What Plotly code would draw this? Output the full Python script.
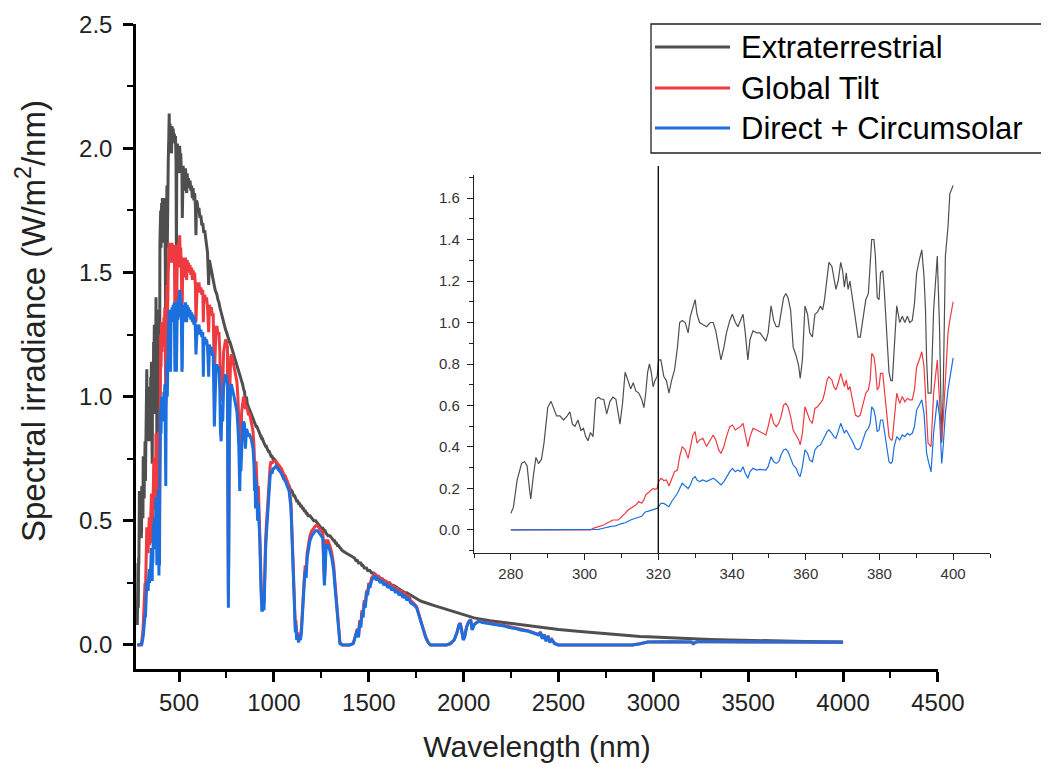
import plotly.graph_objects as go

# ---------------- DATA ----------------
# UV part 280-400 nm (also shown in the inset)
wavelength_uv = [
    280.0, 280.7, 281.7, 282.9, 283.7, 284.4, 285.1, 285.4, 286.1, 286.8,
    287.5, 288.3, 289.0, 290.0, 290.9, 291.6, 292.4, 293.3, 294.3, 295.3,
    296.0, 296.7, 297.4, 298.2, 299.0, 299.7, 300.3, 300.9, 301.6, 302.3,
    303.0, 303.8, 304.5, 305.2, 306.0, 306.9, 307.7, 308.5, 309.1, 309.6,
    310.3, 311.0, 311.8, 312.5, 313.2, 313.9, 314.7, 315.5, 316.1, 316.6,
    317.1, 317.6, 318.1, 318.6, 319.1, 319.7, 320.1, 320.7, 321.5, 322.2,
    322.9, 323.6, 324.4, 325.2, 325.8, 326.5, 327.3, 328.1, 328.7, 329.4,
    330.0, 330.5, 331.2, 332.1, 333.1, 334.1, 334.9, 335.6, 336.4, 337.0,
    337.8, 338.5, 339.4, 340.1, 340.9, 341.6, 342.3, 343.0, 343.6, 344.3,
    344.9, 345.7, 346.7, 347.6, 348.4, 349.2, 349.8, 350.6, 351.3, 352.0,
    352.7, 353.3, 354.0, 354.6, 355.2, 355.9, 356.6, 357.4, 358.1, 358.5,
    359.1, 359.8, 360.5, 361.1, 361.8, 362.5, 363.2, 364.0, 364.6, 365.1,
    365.8, 366.3, 367.1, 367.6, 368.2, 368.8, 369.5, 370.0, 370.5, 371.0,
    371.5, 372.0, 372.7, 373.5, 374.2, 374.8, 375.6, 376.3, 377.0, 377.5,
    377.9, 378.5, 378.9, 379.4, 379.9, 380.3, 380.9, 381.3, 381.6, 382.2,
    382.6, 383.1, 383.5, 384.0, 384.7, 385.5, 386.2, 386.9, 387.6, 388.2,
    388.9, 389.5, 390.1, 390.8, 391.5, 392.1, 392.5, 392.8, 393.2, 394.0,
    394.7, 395.7, 396.3, 396.9, 397.3, 397.9, 398.6, 399.1, 400.0,
]
extraterrestrial_uv = [
    0.08, 0.11, 0.24, 0.32, 0.33, 0.31, 0.19, 0.15, 0.26, 0.35,
    0.32, 0.34, 0.42, 0.59, 0.62, 0.59, 0.55, 0.55, 0.53, 0.55,
    0.57, 0.51, 0.50, 0.53, 0.48, 0.49, 0.45, 0.43, 0.47, 0.45,
    0.63, 0.64, 0.63, 0.63, 0.56, 0.62, 0.64, 0.63, 0.55, 0.51,
    0.61, 0.76, 0.72, 0.68, 0.71, 0.67, 0.66, 0.63, 0.59, 0.66,
    0.76, 0.80, 0.76, 0.69, 0.72, 0.74, 0.82, 0.82, 0.74, 0.72,
    0.66, 0.72, 0.77, 0.88, 1.00, 1.01, 1.00, 0.95, 1.03, 1.08,
    1.11, 1.04, 1.00, 0.99, 0.98, 1.00, 1.00, 0.96, 0.88, 0.82,
    0.88, 0.95, 1.01, 1.04, 1.00, 0.98, 1.01, 1.04, 0.95, 0.82,
    0.92, 0.96, 0.95, 0.95, 0.93, 0.91, 0.95, 1.08, 1.01, 0.98,
    0.98, 1.04, 1.12, 1.14, 1.12, 1.06, 0.88, 0.84, 0.79, 0.73,
    0.82, 1.08, 1.04, 0.95, 0.93, 1.04, 1.05, 1.08, 1.06, 1.11,
    1.22, 1.29, 1.27, 1.22, 1.16, 1.20, 1.29, 1.25, 1.17, 1.24,
    1.16, 1.20, 1.11, 1.01, 0.93, 0.93, 1.03, 1.11, 1.14, 1.27,
    1.40, 1.40, 1.32, 1.12, 1.11, 1.24, 1.25, 1.16, 1.04, 0.88,
    0.76, 0.72, 0.72, 0.88, 1.08, 1.00, 1.03, 1.00, 1.03, 1.00,
    1.01, 1.09, 1.24, 1.30, 1.35, 1.22, 1.06, 0.82, 0.66, 0.66,
    1.06, 1.32, 0.98, 0.42, 0.66, 1.32, 1.46, 1.62, 1.66,
]
global_tilt_uv = [
    0, 0, 0, 0, 0, 0, 0, 0, 0, 0,
    0, 0, 0, 0, 0, 0, 0, 0, 0, 0,
    0, 0, 0, 0, 0, 0, 0, 0, 0, 0.008,
    0.011, 0.016, 0.019, 0.024, 0.032, 0.040, 0.048, 0.048, 0.048, 0.056,
    0.067, 0.080, 0.096, 0.104, 0.112, 0.120, 0.137, 0.129, 0.145, 0.169,
    0.177, 0.185, 0.193, 0.200, 0.196, 0.200, 0.233, 0.249, 0.238, 0.241,
    0.212, 0.241, 0.281, 0.289, 0.353, 0.402, 0.386, 0.345, 0.402, 0.458,
    0.474, 0.418, 0.434, 0.442, 0.402, 0.434, 0.458, 0.434, 0.386, 0.369,
    0.402, 0.450, 0.498, 0.506, 0.482, 0.490, 0.498, 0.514, 0.466, 0.402,
    0.450, 0.490, 0.482, 0.474, 0.466, 0.458, 0.498, 0.562, 0.514, 0.498,
    0.514, 0.546, 0.602, 0.610, 0.594, 0.546, 0.482, 0.458, 0.434, 0.410,
    0.466, 0.594, 0.562, 0.530, 0.514, 0.586, 0.594, 0.610, 0.627, 0.659,
    0.723, 0.739, 0.723, 0.691, 0.675, 0.707, 0.755, 0.723, 0.691, 0.723,
    0.675, 0.691, 0.627, 0.554, 0.546, 0.554, 0.610, 0.659, 0.675, 0.723,
    0.851, 0.835, 0.787, 0.675, 0.691, 0.755, 0.755, 0.691, 0.627, 0.530,
    0.450, 0.434, 0.434, 0.530, 0.659, 0.610, 0.643, 0.618, 0.635, 0.627,
    0.627, 0.675, 0.787, 0.819, 0.859, 0.787, 0.659, 0.530, 0.418, 0.402,
    0.659, 0.819, 0.627, 0.434, 0.530, 0.739, 0.948, 1.012, 1.100,
]
direct_uv = [
    0, 0, 0, 0, 0, 0, 0, 0, 0, 0,
    0, 0, 0, 0, 0, 0, 0, 0, 0, 0,
    0, 0, 0, 0, 0, 0, 0, 0, 0, 0,
    0.0, 0.003, 0.006, 0.008, 0.011, 0.016, 0.019, 0.020, 0.025, 0.029,
    0.032, 0.035, 0.040, 0.048, 0.053, 0.058, 0.061, 0.066, 0.080, 0.088,
    0.090, 0.093, 0.096, 0.096, 0.100, 0.104, 0.112, 0.128, 0.128, 0.120,
    0.112, 0.136, 0.157, 0.177, 0.200, 0.225, 0.212, 0.200, 0.217, 0.249,
    0.257, 0.241, 0.233, 0.241, 0.233, 0.241, 0.249, 0.241, 0.225, 0.217,
    0.233, 0.257, 0.281, 0.297, 0.281, 0.289, 0.281, 0.305, 0.273, 0.249,
    0.281, 0.297, 0.289, 0.292, 0.289, 0.289, 0.305, 0.353, 0.329, 0.321,
    0.329, 0.361, 0.386, 0.390, 0.378, 0.345, 0.313, 0.297, 0.265, 0.257,
    0.305, 0.386, 0.370, 0.337, 0.329, 0.386, 0.402, 0.410, 0.434, 0.450,
    0.474, 0.482, 0.466, 0.450, 0.442, 0.474, 0.514, 0.490, 0.466, 0.482,
    0.466, 0.450, 0.426, 0.394, 0.386, 0.394, 0.442, 0.474, 0.490, 0.514,
    0.594, 0.578, 0.546, 0.474, 0.482, 0.530, 0.530, 0.482, 0.434, 0.369,
    0.329, 0.321, 0.329, 0.402, 0.450, 0.434, 0.458, 0.450, 0.466, 0.458,
    0.466, 0.498, 0.578, 0.602, 0.627, 0.562, 0.466, 0.370, 0.337, 0.280,
    0.466, 0.627, 0.550, 0.321, 0.402, 0.562, 0.675, 0.739, 0.830,
]

# Visible / near-IR part 403-1000 nm
wavelength_vis = [
    403, 405, 408, 410, 412, 415, 418, 420, 423, 425,
    428, 430, 432, 434, 436, 438, 440, 443, 446, 448,
    450, 452, 455, 458, 460, 463, 466, 469, 472, 475,
    478, 481, 484, 486, 488, 491, 494, 497, 500, 503,
    506, 509, 512, 515, 517, 519, 522, 525, 528, 531,
    534, 537, 540, 543, 546, 550, 554, 558, 562, 566,
    570, 574, 578, 582, 586, 589, 592, 596, 600, 605,
    610, 615, 620, 625, 628, 630, 635, 640, 645, 650,
    656, 660, 665, 670, 675, 680, 686, 690, 695, 700,
    705, 710, 715, 718, 722, 726, 730, 735, 740, 745,
    750, 755, 758, 760, 762, 765, 768, 772, 776, 780,
    785, 790, 795, 800, 805, 810, 815, 820, 823, 826,
    830, 835, 840, 845, 850, 855, 860, 865, 870, 875,
    880, 885, 890, 895, 898, 900, 903, 906, 910, 914,
    918, 922, 926, 930, 933, 936, 940, 944, 948, 952,
    956, 960, 965, 970, 975, 980, 985, 990, 995, 1000,
]
extraterrestrial_vis = [
    1.75, 1.60, 1.78, 1.65, 1.80, 1.74, 1.62, 1.78, 1.72, 1.80,
    1.55, 1.25, 1.60, 1.72, 1.85, 1.60, 1.90, 1.95, 2.05, 2.14,
    2.00, 2.10, 2.05, 2.08, 1.98, 2.09, 2.04, 2.08, 2.03, 2.06,
    2.02, 2.05, 1.95, 1.55, 1.98, 2.02, 1.93, 2.00, 1.90, 2.01,
    1.96, 1.98, 1.90, 1.92, 1.72, 1.85, 1.93, 1.83, 1.91, 1.86,
    1.92, 1.88, 1.82, 1.90, 1.85, 1.88, 1.84, 1.87, 1.83, 1.85,
    1.80, 1.84, 1.79, 1.82, 1.77, 1.65, 1.79, 1.78, 1.75, 1.76,
    1.72, 1.73, 1.69, 1.70, 1.68, 1.66, 1.67, 1.63, 1.62, 1.58,
    1.45, 1.55, 1.53, 1.51, 1.48, 1.47, 1.45, 1.43, 1.42, 1.41,
    1.39, 1.38, 1.36, 1.35, 1.34, 1.33, 1.31, 1.30, 1.28, 1.27,
    1.26, 1.25, 1.24, 1.24, 1.23, 1.22, 1.22, 1.21, 1.20, 1.19,
    1.18, 1.16, 1.15, 1.14, 1.13, 1.11, 1.10, 1.09, 1.08, 1.07,
    1.06, 1.05, 1.03, 1.02, 0.98, 1.00, 0.97, 0.96, 0.95, 0.94,
    0.93, 0.92, 0.91, 0.90, 0.90, 0.89, 0.89, 0.88, 0.88, 0.87,
    0.86, 0.86, 0.85, 0.84, 0.84, 0.83, 0.83, 0.82, 0.81, 0.81,
    0.80, 0.80, 0.79, 0.78, 0.78, 0.77, 0.76, 0.76, 0.75, 0.75,
]
global_tilt_vis = [
    1.25, 1.12, 1.30, 1.18, 1.30, 1.28, 1.20, 1.32, 1.30, 1.36,
    1.20, 0.98, 1.25, 1.35, 1.45, 1.25, 1.45, 1.50, 1.57, 1.62,
    1.55, 1.60, 1.58, 1.61, 1.54, 1.62, 1.58, 1.61, 1.57, 1.60,
    1.35, 1.61, 1.52, 1.25, 1.55, 1.60, 1.52, 1.62, 1.52, 1.65,
    1.58, 1.60, 1.52, 1.35, 1.38, 1.50, 1.56, 1.48, 1.55, 1.50,
    1.56, 1.52, 1.47, 1.55, 1.51, 1.54, 1.50, 1.53, 1.49, 1.52,
    1.47, 1.51, 1.47, 1.50, 1.45, 1.30, 1.45, 1.46, 1.44, 1.46,
    1.42, 1.44, 1.41, 1.43, 1.30, 1.38, 1.41, 1.39, 1.40, 1.36,
    1.26, 1.37, 1.35, 1.36, 1.33, 1.33, 1.08, 1.15, 1.28, 1.28,
    1.25, 1.26, 1.18, 1.02, 0.98, 1.12, 1.06, 1.18, 1.22, 1.23,
    1.22, 1.20, 0.55, 0.20, 0.45, 0.95, 1.12, 1.16, 1.17, 1.15,
    1.14, 1.12, 1.10, 1.08, 1.06, 1.00, 0.92, 0.80, 0.88, 0.83,
    0.94, 0.98, 1.00, 0.99, 0.95, 0.96, 0.95, 0.93, 0.93, 0.92,
    0.90, 0.88, 0.86, 0.80, 0.70, 0.76, 0.62, 0.74, 0.68, 0.58,
    0.64, 0.55, 0.48, 0.32, 0.22, 0.16, 0.17, 0.20, 0.17, 0.35,
    0.42, 0.48, 0.55, 0.62, 0.67, 0.72, 0.74, 0.73, 0.74, 0.74,
]
direct_vis = [
    0.95, 0.85, 1.00, 0.90, 1.00, 0.98, 0.90, 1.02, 1.00, 1.05,
    0.85, 0.64, 0.95, 1.05, 1.15, 1.00, 1.18, 1.22, 1.30, 1.35,
    1.28, 1.32, 1.10, 1.34, 1.30, 1.36, 1.33, 1.37, 1.33, 1.38,
    1.10, 1.38, 1.30, 1.10, 1.32, 1.38, 1.31, 1.40, 1.32, 1.43,
    1.38, 1.40, 1.33, 1.10, 1.12, 1.30, 1.37, 1.30, 1.37, 1.32,
    1.38, 1.34, 1.30, 1.37, 1.33, 1.36, 1.32, 1.35, 1.31, 1.34,
    1.30, 1.33, 1.29, 1.32, 1.27, 1.17, 1.28, 1.29, 1.27, 1.29,
    1.25, 1.27, 1.24, 1.26, 1.08, 1.20, 1.24, 1.22, 1.23, 1.20,
    1.08, 1.21, 1.19, 1.20, 1.17, 1.17, 0.88, 0.98, 1.12, 1.13,
    1.10, 1.12, 1.02, 0.86, 0.82, 0.97, 0.90, 1.04, 1.08, 1.09,
    1.08, 1.06, 0.45, 0.15, 0.35, 0.85, 1.00, 1.04, 1.05, 1.03,
    1.02, 1.00, 0.98, 0.96, 0.94, 0.88, 0.80, 0.62, 0.75, 0.70,
    0.84, 0.88, 0.90, 0.89, 0.79, 0.87, 0.86, 0.84, 0.85, 0.84,
    0.83, 0.81, 0.79, 0.72, 0.62, 0.69, 0.55, 0.66, 0.61, 0.50,
    0.57, 0.48, 0.42, 0.28, 0.18, 0.14, 0.14, 0.16, 0.14, 0.30,
    0.38, 0.44, 0.51, 0.58, 0.63, 0.68, 0.70, 0.69, 0.71, 0.71,
]

# Infrared part 1010-4000 nm
wavelength_ir = [
    1010, 1020, 1030, 1040, 1050, 1060, 1070, 1080, 1090, 1095,
    1100, 1105, 1110, 1113, 1116, 1120, 1125, 1130, 1135, 1140,
    1145, 1150, 1155, 1160, 1165, 1170, 1175, 1180, 1190, 1200,
    1210, 1220, 1230, 1240, 1250, 1258, 1262, 1266, 1270, 1275,
    1285, 1295, 1305, 1315, 1320, 1325, 1330, 1335, 1340, 1348,
    1360, 1380, 1400, 1418, 1425, 1432, 1440, 1446, 1452, 1458,
    1464, 1470, 1476, 1482, 1488, 1494, 1500, 1506, 1515, 1525,
    1532, 1540, 1550, 1560, 1570, 1580, 1590, 1600, 1610, 1620,
    1630, 1640, 1650, 1660, 1670, 1680, 1690, 1700, 1710, 1720,
    1730, 1740, 1752, 1760, 1770, 1780, 1790, 1800, 1813, 1825,
    1850, 1880, 1910, 1930, 1950, 1965, 1975, 1982, 1990, 1998,
    2005, 2015, 2025, 2037, 2045, 2055, 2068, 2080, 2100, 2120,
    2140, 2160, 2180, 2200, 2220, 2240, 2260, 2280, 2300, 2320,
    2340, 2360, 2380, 2395, 2405, 2415, 2425, 2435, 2445, 2455,
    2465, 2480, 2500, 2600, 2700, 2800, 2890, 2930, 2970, 3100,
    3200, 3210, 3230, 3300, 3400, 3500, 3600, 3700, 3800, 3900,
    4000,
]
extraterrestrial_ir = [
    0.74, 0.72, 0.71, 0.70, 0.68, 0.67, 0.65, 0.64, 0.62, 0.62,
    0.61, 0.60, 0.60, 0.59, 0.59, 0.58, 0.58, 0.57, 0.57, 0.56,
    0.56, 0.55, 0.55, 0.54, 0.54, 0.53, 0.53, 0.52, 0.52, 0.51,
    0.50, 0.50, 0.49, 0.48, 0.47, 0.47, 0.46, 0.46, 0.46, 0.45,
    0.44, 0.44, 0.43, 0.42, 0.42, 0.41, 0.41, 0.40, 0.40, 0.39,
    0.38, 0.37, 0.36, 0.35, 0.35, 0.34, 0.34, 0.33, 0.33, 0.33,
    0.32, 0.32, 0.31, 0.31, 0.31, 0.30, 0.30, 0.30, 0.29, 0.29,
    0.28, 0.28, 0.27, 0.27, 0.26, 0.26, 0.25, 0.25, 0.25, 0.24,
    0.24, 0.235, 0.23, 0.225, 0.22, 0.215, 0.21, 0.21, 0.205, 0.20,
    0.195, 0.19, 0.185, 0.18, 0.178, 0.175, 0.172, 0.17, 0.167, 0.163,
    0.157, 0.15, 0.143, 0.138, 0.133, 0.129, 0.126, 0.124, 0.122, 0.12,
    0.118, 0.116, 0.114, 0.112, 0.111, 0.109, 0.107, 0.105, 0.102, 0.099,
    0.097, 0.095, 0.093, 0.091, 0.089, 0.087, 0.085, 0.083, 0.081, 0.079,
    0.077, 0.075, 0.073, 0.072, 0.071, 0.070, 0.069, 0.068, 0.067, 0.066,
    0.065, 0.064, 0.062, 0.055, 0.048, 0.042, 0.036, 0.034, 0.033, 0.028,
    0.024, 0.024, 0.023, 0.022, 0.020, 0.018, 0.016, 0.015, 0.014, 0.013,
    0.012,
]
global_tilt_ir = [
    0.74, 0.73, 0.72, 0.71, 0.69, 0.68, 0.66, 0.64, 0.57, 0.47,
    0.35, 0.30, 0.17, 0.07, 0.10, 0.03, 0.05, 0.02, 0.04, 0.03,
    0.07, 0.14, 0.24, 0.27, 0.32, 0.29, 0.37, 0.40, 0.44, 0.46,
    0.47, 0.48, 0.48, 0.47, 0.46, 0.45, 0.35, 0.26, 0.32, 0.42,
    0.42, 0.40, 0.37, 0.32, 0.27, 0.22, 0.19, 0.13, 0.07, 0.01,
    0.0, 0.0, 0.0, 0.006, 0.022, 0.045, 0.065, 0.035, 0.10, 0.08,
    0.14, 0.12, 0.18, 0.16, 0.22, 0.21, 0.25, 0.24, 0.27, 0.28,
    0.29, 0.27, 0.28, 0.26, 0.27, 0.25, 0.26, 0.24, 0.25, 0.23,
    0.24, 0.22, 0.23, 0.21, 0.22, 0.20, 0.21, 0.19, 0.20, 0.18,
    0.17, 0.165, 0.155, 0.135, 0.115, 0.085, 0.055, 0.032, 0.01, 0.0,
    0.0, 0.0, 0.0, 0.005, 0.02, 0.05, 0.08, 0.088, 0.062, 0.022,
    0.032, 0.072, 0.092, 0.102, 0.062, 0.082, 0.092, 0.097, 0.092, 0.09,
    0.087, 0.085, 0.082, 0.08, 0.077, 0.072, 0.07, 0.067, 0.062, 0.06,
    0.057, 0.052, 0.047, 0.042, 0.052, 0.027, 0.042, 0.017, 0.037, 0.012,
    0.022, 0.006, 0.0, 0.0, 0.0, 0.0, 0.0, 0.005, 0.012, 0.013,
    0.012, 0.005, 0.013, 0.013, 0.012, 0.012, 0.012, 0.012, 0.011, 0.011,
    0.011,
]
direct_ir = [
    0.72, 0.71, 0.70, 0.69, 0.67, 0.66, 0.64, 0.62, 0.55, 0.45,
    0.33, 0.28, 0.15, 0.05, 0.08, 0.02, 0.04, 0.01, 0.03, 0.02,
    0.05, 0.12, 0.22, 0.25, 0.30, 0.27, 0.35, 0.38, 0.42, 0.44,
    0.45, 0.46, 0.46, 0.45, 0.44, 0.43, 0.33, 0.24, 0.30, 0.40,
    0.40, 0.38, 0.35, 0.30, 0.25, 0.20, 0.18, 0.12, 0.06, 0.005,
    0.0, 0.0, 0.0, 0.005, 0.02, 0.04, 0.06, 0.03, 0.09, 0.07,
    0.13, 0.11, 0.17, 0.15, 0.21, 0.20, 0.24, 0.23, 0.26, 0.27,
    0.28, 0.26, 0.27, 0.25, 0.26, 0.24, 0.25, 0.23, 0.24, 0.22,
    0.23, 0.21, 0.22, 0.20, 0.21, 0.19, 0.20, 0.18, 0.19, 0.17,
    0.165, 0.16, 0.15, 0.13, 0.11, 0.08, 0.05, 0.03, 0.01, 0.0,
    0.0, 0.0, 0.0, 0.005, 0.02, 0.05, 0.08, 0.087, 0.06, 0.02,
    0.03, 0.07, 0.09, 0.10, 0.06, 0.08, 0.09, 0.095, 0.09, 0.088,
    0.085, 0.083, 0.08, 0.078, 0.075, 0.07, 0.068, 0.065, 0.06, 0.058,
    0.055, 0.05, 0.045, 0.04, 0.05, 0.025, 0.04, 0.015, 0.035, 0.01,
    0.02, 0.005, 0.0, 0.0, 0.0, 0.0, 0.0, 0.005, 0.012, 0.013,
    0.012, 0.005, 0.013, 0.013, 0.012, 0.012, 0.012, 0.012, 0.011, 0.011,
    0.011,
]

series_names = ["Extraterrestrial", "Global Tilt", "Direct + Circumsolar"]
series_colors = ["#4f4f4f", "#ee3b40", "#1c6fde"]

x_ticks_main = [500, 1000, 1500, 2000, 2500, 3000, 3500, 4000, 4500]
y_ticks_main = [0.0, 0.5, 1.0, 1.5, 2.0, 2.5]
x_ticks_inset = [280, 300, 320, 340, 360, 380, 400]
y_ticks_inset = [0.0, 0.2, 0.4, 0.6, 0.8, 1.0, 1.2, 1.4, 1.6]
marker_wavelength = 320

for a, b in [(wavelength_uv, extraterrestrial_uv), (wavelength_uv, global_tilt_uv), (wavelength_uv, direct_uv),
             (wavelength_vis, extraterrestrial_vis), (wavelength_vis, global_tilt_vis), (wavelength_vis, direct_vis),
             (wavelength_ir, extraterrestrial_ir), (wavelength_ir, global_tilt_ir), (wavelength_ir, direct_ir)]:
    assert len(a) == len(b), (len(a), len(b))

wavelength_all = wavelength_uv + wavelength_vis + wavelength_ir
main_series = [
    extraterrestrial_uv + extraterrestrial_vis + extraterrestrial_ir,
    global_tilt_uv + global_tilt_vis + global_tilt_ir,
    direct_uv + direct_vis + direct_ir,
]
inset_series = [extraterrestrial_uv, global_tilt_uv, direct_uv]

FONT = "Liberation Sans, Arial, sans-serif"

fig = go.Figure()
for name, color, ys in zip(series_names, series_colors, main_series):
    fig.add_trace(go.Scatter(x=wavelength_all, y=ys, mode="lines", name=name,
                             line=dict(color=color, width=3.0), showlegend=False,
                             xaxis="x", yaxis="y"))
for name, color, ys in zip(series_names, series_colors, inset_series):
    fig.add_trace(go.Scatter(x=wavelength_uv, y=ys, mode="lines", name=name,
                             line=dict(color=color, width=1.2), showlegend=False,
                             xaxis="x2", yaxis="y2"))

# plot area on screen: x 136..1009 px, y 24..669 px (page body adds an 8 px offset)
W_PLOT, H_PLOT = 873.0, 645.0
def px_x(p):
    return (p - 136) / W_PLOT
def px_y(p):
    return (669 - p) / H_PLOT

main_axis = dict(showline=True, linecolor="black", linewidth=2.5, ticks="outside",
                 ticklen=10, tickwidth=2.5, tickcolor="black", showgrid=False, zeroline=False,
                 tickfont=dict(family=FONT, size=24, color="#222"), mirror=False, automargin=False)
fig.update_layout(
    width=1049, height=767,
    margin=dict(l=128, r=48, t=16, b=106, autoexpand=False),
    paper_bgcolor="white", plot_bgcolor="white",
    font=dict(family=FONT, color="#222"),
    xaxis=dict(main_axis, domain=[0, px_x(938)], range=[273, 4500.5], tickvals=x_ticks_main,
               ticklabelstandoff=0,
               minor=dict(dtick=250, tick0=0, ticks="outside", ticklen=6, tickwidth=2, tickcolor="black"),
               title=dict(text="Wavelength (nm)", font=dict(family=FONT, size=30, color="#222"), standoff=22)),
    yaxis=dict(main_axis, domain=[0, 1], range=[-0.097, 2.501], tickvals=y_ticks_main, tickformat=".1f",
               ticklabelstandoff=6,
               minor=dict(dtick=0.25, tick0=0, ticks="outside", ticklen=6, tickwidth=2, tickcolor="black")),
    xaxis2=dict(domain=[px_x(474), px_x(990)], anchor="y2", range=[270, 410], tickvals=x_ticks_inset,
                showline=True, linecolor="#222", linewidth=1.2, ticks="outside", ticklen=6, tickwidth=1.2,
                tickcolor="#222", showgrid=False, zeroline=False, ticklabelstandoff=1, automargin=False,
                tickfont=dict(family=FONT, size=15, color="#333"),
                minor=dict(dtick=10, tick0=0, ticks="outside", ticklen=4, tickwidth=1, tickcolor="#222")),
    yaxis2=dict(domain=[px_y(553), px_y(175)], anchor="x2", range=[-0.111, 1.711], tickvals=y_ticks_inset,
                tickformat=".1f", showline=True, linecolor="#222", linewidth=1.2, ticks="outside", ticklen=6,
                tickwidth=1.2, tickcolor="#222", showgrid=False, zeroline=False, ticklabelstandoff=4,
                automargin=False, tickfont=dict(family=FONT, size=15, color="#333"),
                minor=dict(dtick=0.1, tick0=0, ticks="outside", ticklen=4, tickwidth=1, tickcolor="#222")),
)

# vertical marker line in the inset
fig.add_shape(type="line", xref="x2", yref="y2 domain", x0=marker_wavelength, x1=marker_wavelength,
              y0=0, y1=1.024, line=dict(color="black", width=1.3))

# y axis title
fig.add_annotation(text="Spectral irradiance (W/m<sup>2</sup>/nm)", xref="paper", yref="paper",
                   x=px_x(31), y=px_y(321), textangle=-90, showarrow=False,
                   font=dict(family=FONT, size=33, color="#222"), xanchor="center", yanchor="middle")

# legend box (drawn)
fig.add_shape(type="rect", xref="paper", yref="paper", x0=px_x(651), x1=px_x(1046),
              y0=px_y(153), y1=px_y(24), line=dict(color="#222", width=1.3), fillcolor="white", layer="above")
legend_rows_px = [47, 88, 128]
for name, color, ypx in zip(series_names, series_colors, legend_rows_px):
    fig.add_shape(type="line", xref="paper", yref="paper", x0=px_x(655), x1=px_x(730),
                  y0=px_y(ypx), y1=px_y(ypx), line=dict(color=color, width=3), layer="above")
    fig.add_annotation(text=name, xref="paper", yref="paper", x=px_x(739), y=px_y(ypx),
                       xanchor="left", yanchor="middle", showarrow=False,
                       font=dict(family=FONT, size=31, color="black"))

fig.write_html("out.html")
